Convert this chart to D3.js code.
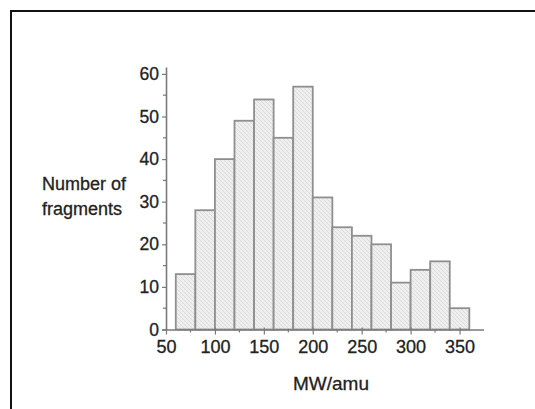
<!DOCTYPE html>
<html>
<head>
<meta charset="utf-8">
<script src="https://cdn.jsdelivr.net/npm/d3@7"></script>
<style>
  body { margin: 0; background: #fff; }
  svg { display: block; }
</style>
</head>
<body>
<svg id="chart" width="535" height="409"></svg>
<script>
// Histogram bins (MW/amu) and counts
const binStarts = [60, 80, 100, 120, 140, 160, 180, 200, 220, 240, 260, 280, 300, 320, 340];
const binWidth = 20;
const counts = [13, 28, 40, 49, 54, 45, 57, 31, 24, 22, 20, 11, 14, 16, 5];
const xTicks = [50, 100, 150, 200, 250, 300, 350];
const yTicks = [0, 10, 20, 30, 40, 50, 60];

const svg = d3.select("#chart");

// Frame: only top and left edges are visible in the crop
svg.append("path")
  .attr("d", "M11,409 V11 H535")
  .attr("fill", "none")
  .attr("stroke", "#111")
  .attr("stroke-width", 2);

// Hatch pattern for bars
const defs = svg.append("defs");
const pat = defs.append("pattern")
  .attr("id", "hatch")
  .attr("patternUnits", "userSpaceOnUse")
  .attr("width", 4)
  .attr("height", 4);
pat.append("rect").attr("width", 4).attr("height", 4).attr("fill", "#efefef");
pat.append("path")
  .attr("d", "M0,0 L4,4 M-1,3 L1,5 M3,-1 L5,1")
  .attr("stroke", "#d6d6d6")
  .attr("stroke-width", 0.8);

const xScale = d3.scaleLinear().domain([50, 375]).range([166, 484]);
const yScale = d3.scaleLinear().domain([0, 61.5]).range([329.5, 67.5]);

const fontFam = "Liberation Sans, Arial, sans-serif";
const axisColor = "#7a7a7a";
const textColor = "#222";

// Bars
svg.append("g")
  .selectAll("rect")
  .data(counts)
  .join("rect")
  .attr("x", (d, i) => xScale(binStarts[i]))
  .attr("y", d => yScale(d))
  .attr("width", (d, i) => xScale(binStarts[i] + binWidth) - xScale(binStarts[i]))
  .attr("height", d => yScale(0) - yScale(d))
  .attr("fill", "url(#hatch)")
  .attr("stroke", "#8f8f8f")
  .attr("stroke-width", 1.8);

// X axis
const xAxis = svg.append("g")
  .attr("transform", `translate(0,${yScale(0)})`)
  .call(d3.axisBottom(xScale).tickValues(xTicks).tickSize(5).tickPadding(6).tickFormat(d3.format("d")));
xAxis.select(".domain").attr("stroke", axisColor).attr("stroke-width", 1.6)
  .attr("d", `M${xScale(50) - 4},0.5H${xScale(375)}`);
xAxis.selectAll(".tick line").attr("stroke", axisColor).attr("stroke-width", 1.2).attr("y1", -2);
xAxis.selectAll(".tick text")
  .attr("fill", textColor)
  .attr("stroke", textColor).attr("stroke-width", 0.3)
  .style("font-family", fontFam)
  .style("font-size", "18px");
// minor x ticks
xAxis.selectAll(".minor")
  .data(xTicks.map(d => d + 25).filter(d => d < 375))
  .join("line")
  .attr("class", "minor")
  .attr("x1", d => xScale(d)).attr("x2", d => xScale(d))
  .attr("y1", 0).attr("y2", 3)
  .attr("stroke", axisColor).attr("stroke-width", 1.2);

// Y axis
const yAxis = svg.append("g")
  .attr("transform", `translate(${xScale(50)},0)`)
  .call(d3.axisLeft(yScale).tickValues(yTicks).tickSize(4).tickPadding(3).tickFormat(d3.format("d")));
yAxis.select(".domain").attr("stroke", axisColor).attr("stroke-width", 1.6)
  .attr("d", `M0.5,${yScale(0) + 1}V${yScale(61.5)}`);
yAxis.selectAll(".tick line").attr("stroke", axisColor).attr("stroke-width", 1.2);
yAxis.selectAll(".tick text")
  .attr("fill", textColor)
  .attr("stroke", textColor).attr("stroke-width", 0.3)
  .style("font-family", fontFam)
  .style("font-size", "17.5px");
yAxis.selectAll(".minor")
  .data(yTicks.map(d => d + 5).filter(d => d < 61.5))
  .join("line")
  .attr("class", "minor")
  .attr("x1", 0).attr("x2", -3)
  .attr("y1", d => yScale(d)).attr("y2", d => yScale(d))
  .attr("stroke", axisColor).attr("stroke-width", 1.2);

// Axis labels
svg.append("text")
  .attr("x", 331)
  .attr("y", 390)
  .attr("text-anchor", "middle")
  .attr("fill", textColor)
  .attr("stroke", textColor).attr("stroke-width", 0.3)
  .style("font-family", fontFam)
  .style("font-size", "19px")
  .text("MW/amu");

const yLabel = svg.append("text")
  .attr("x", 42)
  .attr("y", 190)
  .attr("fill", textColor)
  .attr("stroke", textColor).attr("stroke-width", 0.3)
  .style("font-family", fontFam)
  .style("font-size", "18px");
yLabel.append("tspan").attr("x", 42).text("Number of");
yLabel.append("tspan").attr("x", 42).attr("dy", 25).text("fragments");
</script>
</body>
</html>
